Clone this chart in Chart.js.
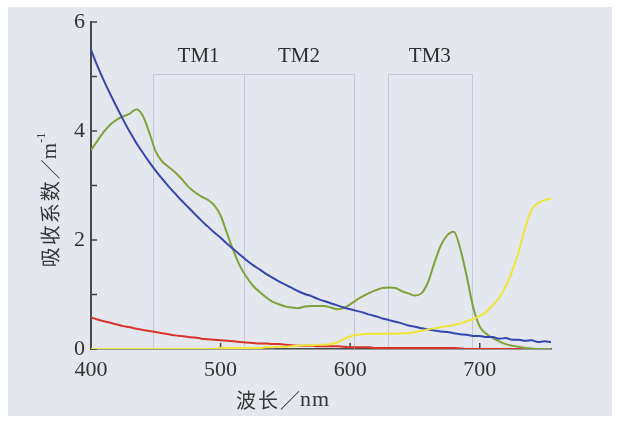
<!DOCTYPE html>
<html lang="zh">
<head>
<meta charset="UTF-8">
<title>吸收系数</title>
<script src="https://cdn.jsdelivr.net/npm/chart.js@4.4.1/dist/chart.umd.min.js"></script>
<style>
  body { margin: 0; background: #fff; }
  #wrap { position: relative; width: 620px; height: 428px; }
  #fondo { position: absolute; left: 8px; top: 7px; width: 604px; height: 409px; background: #e4e7ed; }
  #statsChart { position: absolute; left: 0; top: 0; }
</style>
</head>
<body>
<div id="wrap">
  <div id="fondo"></div>
  <canvas id="statsChart" width="620" height="428"></canvas>
</div>
<script>
// Lunghezze d'onda (nm)
const lunghezzeOnda = [
  400, 405, 410, 415, 420, 425, 430, 435, 440, 445, 450, 455, 460, 465, 470, 475, 480, 485,
  490, 495, 500, 505, 510, 515, 520, 525, 530, 535, 540, 545, 550, 555, 560, 565, 570, 575,
  580, 585, 590, 595, 600, 605, 610, 615, 620, 625, 630, 635, 640, 645, 650, 655, 660, 665,
  670, 675, 680, 685, 690, 695, 700, 705, 710, 715, 720, 725, 730, 735, 740, 745, 750, 755,
];

// Curve di assorbimento (m^-1)
const curvaBlu = [
  5.49, 5.19, 4.92, 4.67, 4.43, 4.2, 3.98, 3.78, 3.6, 3.43, 3.27, 3.12, 2.98, 2.85, 2.72, 2.6, 2.48, 2.36,
  2.25, 2.14, 2.04, 1.93, 1.83, 1.73, 1.63, 1.54, 1.46, 1.38, 1.31, 1.24, 1.18, 1.12, 1.06, 1.01, 0.97, 0.92,
  0.88, 0.84, 0.8, 0.76, 0.73, 0.7, 0.67, 0.63, 0.6, 0.56, 0.53, 0.5, 0.47, 0.43, 0.41, 0.38, 0.36, 0.34,
  0.32, 0.31, 0.29, 0.27, 0.26, 0.24, 0.24, 0.22, 0.22, 0.19, 0.2, 0.17, 0.17, 0.15, 0.16, 0.13, 0.14, 0.13,
];
const curvaVerde = [
  3.65, 3.82, 3.99, 4.12, 4.21, 4.27, 4.32, 4.4, 4.28, 3.97, 3.62, 3.44, 3.34, 3.24, 3.12, 2.98, 2.88, 2.8,
  2.74, 2.64, 2.45, 2.12, 1.8, 1.52, 1.32, 1.16, 1.05, 0.95, 0.87, 0.82, 0.78, 0.76, 0.75, 0.78, 0.79, 0.79,
  0.79, 0.76, 0.73, 0.75, 0.82, 0.9, 0.97, 1.03, 1.08, 1.12, 1.13, 1.12, 1.06, 1.02, 0.98, 1.02, 1.22, 1.58,
  1.9, 2.09, 2.15, 1.84, 1.33, 0.76, 0.41, 0.28, 0.2, 0.14, 0.09, 0.06, 0.04, 0.02, 0.01, 0, 0, 0,
];
const curvaRossa = [
  0.58, 0.54, 0.51, 0.48, 0.45, 0.42, 0.4, 0.37, 0.35, 0.33, 0.31, 0.29, 0.27, 0.25, 0.24, 0.22, 0.21, 0.19,
  0.18, 0.17, 0.16, 0.15, 0.14, 0.13, 0.12, 0.11, 0.1, 0.1, 0.09, 0.09, 0.08, 0.07, 0.06, 0.06, 0.06, 0.05,
  0.05, 0.05, 0.05, 0.04, 0.03, 0.03, 0.03, 0.03, 0.02, 0.02, 0.02, 0.02, 0.02, 0.02, 0.02, 0.02, 0.02, 0.02,
  0.02, 0.02, 0.02, 0.01, 0, 0, 0, 0, 0, 0, 0, 0, 0, 0, 0, 0, 0, 0,
];
const curvaGialla = [
  0, 0, 0, 0, 0, 0, 0, 0, 0, 0, 0, 0, 0, 0, 0, 0, 0, 0,
  0, 0, 0.02, 0.02, 0.02, 0.02, 0.02, 0.02, 0.02, 0.03, 0.03, 0.04, 0.04, 0.05, 0.06, 0.07, 0.07, 0.08,
  0.08, 0.09, 0.12, 0.18, 0.23, 0.26, 0.27, 0.28, 0.28, 0.28, 0.28, 0.28, 0.29, 0.29, 0.31, 0.33, 0.36, 0.38,
  0.4, 0.42, 0.44, 0.47, 0.51, 0.55, 0.61, 0.68, 0.8, 0.94, 1.15, 1.42, 1.78, 2.22, 2.55, 2.68, 2.73, 2.76,
];

// Bande TM
const bandeTM = ["TM1", "TM2", "TM3"];
const bandeInizio = [448, 518, 629];
const bandeFine = [518, 603, 694];
const bandeAltezza = 5.04;
const etichetteY = 5.37;

// Assi
const tickX = [400, 500, 600, 700];
const tickY = [0, 1, 2, 3, 4, 5, 6];

const fontSerif = "'Liberation Serif', 'Noto Sans CJK SC', serif";
const fontCJK = "'Noto Sans CJK SC', 'Liberation Serif', sans-serif";

// Titoli: pezzi di testo [testo, font, spaziatura, spostamento verticale]
const titoloX = [
  ["波长", "20px " + fontCJK, 2, 0],
  ["／", "20px " + fontCJK, 0, 0],
  ["nm", "22px " + fontSerif, 1, 0],
];
const titoloY = [
  ["吸收系数", "20px " + fontCJK, 2, 0],
  ["／", "20px " + fontCJK, 0, 0],
  ["m", "21px " + fontSerif, 0, 0],
  ["-1", "12px " + fontSerif, 0, -8],
];

function serie(valori) {
  return lunghezzeOnda.map((l, i) => ({ x: l, y: valori[i] }));
}

// Scrive un titolo composto da più pezzi, centrato sull'origine corrente
function scriviTitolo(ctx, pezzi) {
  const larghezze = pezzi.map(([testo, font, spazio]) => {
    ctx.font = font;
    ctx.letterSpacing = spazio + "px";
    return ctx.measureText(testo).width;
  });
  let posX = -larghezze.reduce((a, b) => a + b, 0) / 2;
  pezzi.forEach(([testo, font, spazio, dy], i) => {
    ctx.font = font;
    ctx.letterSpacing = spazio + "px";
    ctx.fillText(testo, posX, dy);
    posX += larghezze[i];
  });
  ctx.letterSpacing = "0px";
}

// Disegna bande, tacche e titoli degli assi
const decorazioni = {
  id: "decorazioni",
  beforeDatasetsDraw(chart) {
    const { ctx } = chart;
    const x = chart.scales.x;
    const y = chart.scales.y;
    ctx.save();

    ctx.strokeStyle = "#c2c7d9";
    ctx.lineWidth = 1;
    const yTop = Math.round(y.getPixelForValue(bandeAltezza)) + 0.5;
    const yBot = y.getPixelForValue(0);
    bandeInizio.forEach((inizio, i) => {
      const x1 = Math.round(x.getPixelForValue(inizio)) + 0.5;
      const x2 = Math.round(x.getPixelForValue(bandeFine[i])) + 0.5;
      ctx.beginPath();
      ctx.moveTo(x1, yBot);
      ctx.lineTo(x1, yTop);
      ctx.lineTo(x2, yTop);
      ctx.lineTo(x2, yBot);
      ctx.stroke();
    });

    ctx.fillStyle = "#2e2e2e";
    ctx.font = "21px " + fontSerif;
    ctx.textAlign = "center";
    ctx.textBaseline = "middle";
    bandeTM.forEach((nome, i) => {
      const centro = (bandeInizio[i] + bandeFine[i]) / 2;
      ctx.fillText(nome, x.getPixelForValue(centro), y.getPixelForValue(etichetteY));
    });

    // tacche interne
    ctx.strokeStyle = "#444";
    ctx.lineWidth = 1.5;
    const x0 = x.getPixelForValue(400);
    tickY.forEach((v) => {
      const py = y.getPixelForValue(v);
      ctx.beginPath();
      ctx.moveTo(x0, py);
      ctx.lineTo(x0 + 6, py);
      ctx.stroke();
    });
    tickX.slice(1).forEach((v) => {
      const px = x.getPixelForValue(v);
      ctx.beginPath();
      ctx.moveTo(px, yBot);
      ctx.lineTo(px, yBot - 6);
      ctx.stroke();
    });
    ctx.restore();
  },
  afterDraw(chart) {
    const { ctx } = chart;
    ctx.save();
    ctx.fillStyle = "#363636";
    ctx.textAlign = "left";
    ctx.textBaseline = "middle";

    ctx.save();
    ctx.translate(283, 400);
    scriviTitolo(ctx, titoloX);
    ctx.restore();

    // titolo verticale
    ctx.translate(50, 200);
    ctx.rotate(-Math.PI / 2);
    scriviTitolo(ctx, titoloY);
    ctx.restore();
  },
};

const ctx = document.getElementById("statsChart").getContext("2d");
new Chart(ctx, {
  type: "line",
  data: {
    datasets: [
      { data: serie(curvaGialla), borderColor: "#eee63a" },
      { data: serie(curvaBlu), borderColor: "#3446b0" },
      { data: serie(curvaVerde), borderColor: "#7fa33a" },
      { data: serie(curvaRossa), borderColor: "#d9342b" },
    ],
  },
  options: {
    responsive: false,
    animation: false,
    layout: { padding: { left: 0, right: 69, top: 22, bottom: 0 } },
    elements: {
      point: { radius: 0 },
      line: { borderWidth: 2, cubicInterpolationMode: "monotone" },
    },
    plugins: {
      legend: { display: false },
      tooltip: { enabled: false },
    },
    scales: {
      x: {
        type: "linear",
        min: 400,
        max: 755,
        afterFit: (s) => { s.height = 79; },
        grid: { drawOnChartArea: false, drawTicks: false },
        border: { display: true, color: "#4a4a4a", width: 1.5 },
        ticks: {
          stepSize: 100,
          includeBounds: false,
          padding: 8,
          color: "#333",
          font: { family: fontSerif, size: 22 },
        },
      },
      y: {
        min: 0,
        max: 6,
        afterFit: (s) => { s.width = 91; },
        grid: { drawOnChartArea: false, drawTicks: false },
        border: { display: true, color: "#4a4a4a", width: 2 },
        ticks: {
          stepSize: 1,
          padding: 6,
          color: "#333",
          font: { family: fontSerif, size: 22 },
          callback: (v) => (v % 2 === 0 ? v : ""),
        },
      },
    },
  },
  plugins: [decorazioni],
});
</script>
</body>
</html>
